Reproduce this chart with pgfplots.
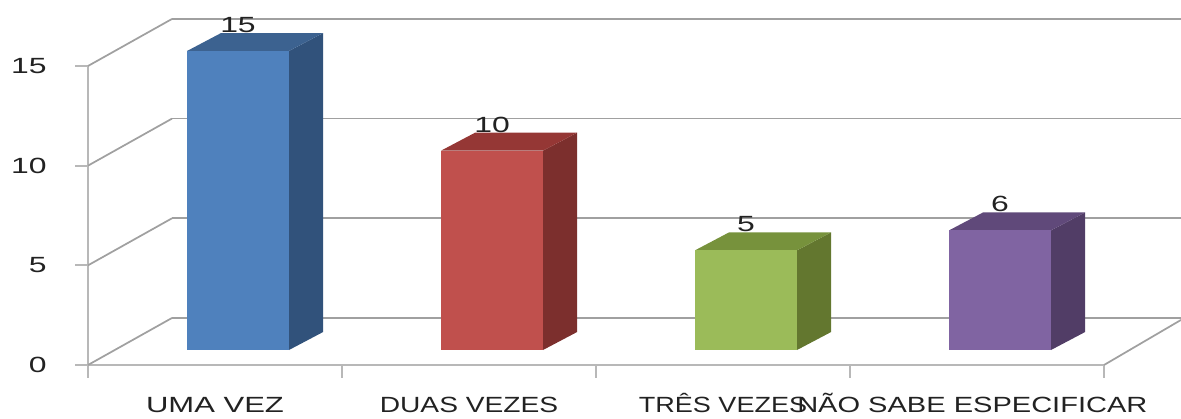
\documentclass[border=0pt]{standalone}
\usepackage{fontspec}
\setmainfont{Liberation Sans}
\usepackage{pgfplots}
\pgfplotsset{compat=1.18, /pgf/number format/assume math mode=true}
\definecolor{axl}{HTML}{B8B8B8}
\definecolor{wall}{HTML}{A0A0A0}
\definecolor{txt}{HTML}{222222}
\definecolor{FB}{HTML}{4F81BD}\definecolor{SB}{HTML}{31527B}\definecolor{TB}{HTML}{3C6290}
\definecolor{FR}{HTML}{C0504D}\definecolor{SR}{HTML}{7C2F2D}\definecolor{TR}{HTML}{953735}
\definecolor{FG}{HTML}{9BBB59}\definecolor{SG}{HTML}{63772F}\definecolor{TG}{HTML}{77923C}
\definecolor{FP}{HTML}{8064A2}\definecolor{SP}{HTML}{513D66}\definecolor{TP}{HTML}{60497A}
\newcommand{\lab}[2][1.45]{\scalebox{#1}[1]{\fontsize{16.5}{16.5}\selectfont #2}}
\begin{document}
\begin{tikzpicture}
\path[use as bounding box] (0pt,0pt) rectangle (885.75pt,313.5pt);
% frame axis: category ticks and value ticks
\begin{axis}[
  at={(66pt,39.75pt)}, anchor=south west, scale only axis,
  width=762pt, height=224.25pt, clip=false,
  xmin=0, xmax=4, ymin=0, ymax=15,
  axis x line*=bottom, axis y line*=left,
  axis line style={axl, line width=2pt},
  tick align=outside, major tick length=9.5pt,
  tick style={axl, line width=1.5pt},
  xtick={0,1,2,3,4}, ytick={0,5,10,15},
  x tick label as interval,
  xticklabels={\lab[1.41]{UMA VEZ},\lab[1.28]{DUAS VEZES},\lab[1.23]{TRÊS VEZES},\hspace{-7pt}\lab[1.32]{NÃO SABE ESPECIFICAR}},
  yticklabel={\lab{\pgfmathprintnumber{\tick}}},
  xticklabel style={text=txt, anchor=base, yshift=-26pt},
  yticklabel style={text=txt, xshift=-18pt},
]
% back wall lines
\addplot[wall, line width=1.3pt] coordinates {(0.3307,2.36) (4.303,2.36)};
\addplot[wall, line width=1.3pt] coordinates {(0.3307,7.36) (4.303,7.36)};
\addplot[wall, line width=1.3pt] coordinates {(0.3307,12.36) (4.303,12.36)};
\addplot[wall, line width=1.3pt] coordinates {(0.3307,17.36) (4.303,17.36)};
% side wall lines
\addplot[wall, line width=1.3pt] coordinates {(0,0) (0.3307,2.36)};
\addplot[wall, line width=1.3pt] coordinates {(0,5) (0.3307,7.36)};
\addplot[wall, line width=1.3pt] coordinates {(0,10) (0.3307,12.36)};
\addplot[wall, line width=1.3pt] coordinates {(0,15) (0.3307,17.36)};
% floor right edge
\addplot[wall, line width=1.3pt] coordinates {(4,0) (4.303,2.26)};
\end{axis}
% bars: same scales, moved to the bars' floor line
\begin{axis}[
  at={(83.25pt,51pt)}, anchor=south west, scale only axis,
  width=762pt, height=224.25pt, clip=false, hide axis,
  xmin=0, xmax=4, ymin=0, ymax=15,
  nodes near coords style={text=txt, anchor=center, yshift=19.5pt},
]
% blue
\addplot[fill=SB, draw=none, forget plot] coordinates {(0.7008,0) (0.8347,0.9) (0.8347,15.9) (0.7008,15)};
\addplot[fill=TB, draw=none, forget plot] coordinates {(0.2992,15) (0.4331,15.9) (0.8347,15.9) (0.7008,15)};
\addplot[ybar, bar width=76.5pt, bar shift=0pt, fill=FB, draw=none,
  nodes near coords={\lab{\pgfmathprintnumber{\pgfplotspointmeta}}}] coordinates {(0.5,15)};
% red
\addplot[fill=SR, draw=none, forget plot] coordinates {(1.7008,0) (1.8347,0.9) (1.8347,10.9) (1.7008,10)};
\addplot[fill=TR, draw=none, forget plot] coordinates {(1.2992,10) (1.4331,10.9) (1.8347,10.9) (1.7008,10)};
\addplot[ybar, bar width=76.5pt, bar shift=0pt, fill=FR, draw=none,
  nodes near coords={\lab{\pgfmathprintnumber{\pgfplotspointmeta}}}] coordinates {(1.5,10)};
% green
\addplot[fill=SG, draw=none, forget plot] coordinates {(2.7008,0) (2.8347,0.9) (2.8347,5.9) (2.7008,5)};
\addplot[fill=TG, draw=none, forget plot] coordinates {(2.2992,5) (2.4331,5.9) (2.8347,5.9) (2.7008,5)};
\addplot[ybar, bar width=76.5pt, bar shift=0pt, fill=FG, draw=none,
  nodes near coords={\lab{\pgfmathprintnumber{\pgfplotspointmeta}}}] coordinates {(2.5,5)};
% purple
\addplot[fill=SP, draw=none, forget plot] coordinates {(3.7008,0) (3.8347,0.9) (3.8347,6.9) (3.7008,6)};
\addplot[fill=TP, draw=none, forget plot] coordinates {(3.2992,6) (3.4331,6.9) (3.8347,6.9) (3.7008,6)};
\addplot[ybar, bar width=76.5pt, bar shift=0pt, fill=FP, draw=none,
  nodes near coords={\lab{\pgfmathprintnumber{\pgfplotspointmeta}}}] coordinates {(3.5,6)};
\end{axis}
\end{tikzpicture}
\end{document}
